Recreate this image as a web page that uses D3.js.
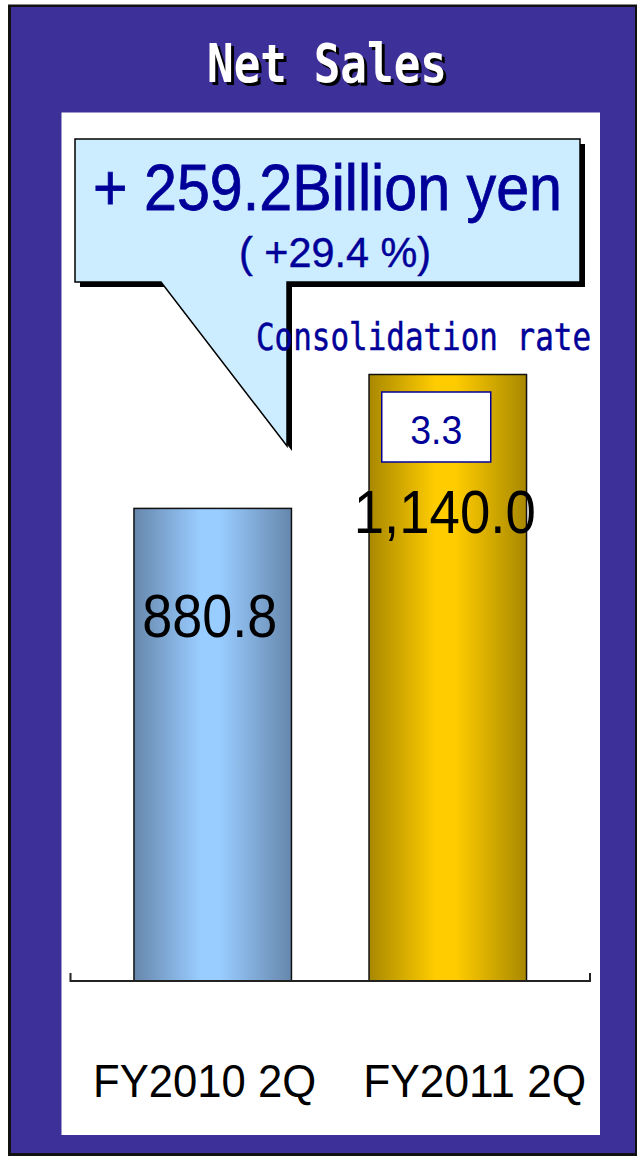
<!DOCTYPE html>
<html><head><meta charset="utf-8">
<script src="https://cdn.jsdelivr.net/npm/d3@7"></script>
<style>body{margin:0;background:#fff}svg{display:block}</style>
</head><body><svg id="c" width="637" height="1156"></svg>
<script>
// ---- data ----
const categories = ["FY2010 2Q", "FY2011 2Q"];
const values = [880.8, 1140.0];
const valueLabels = ["880.8", "1,140.0"];
const rateValues = [null, "3.3"];
const titleText = "Net Sales";
const calloutMain = "+ 259.2Billion yen";
const calloutSub = "( +29.4 %)";
const rateTitle = "Consolidation rate";

// ---- layout ----
const W = 637, H = 1156;
const NAVY = "#000099", PURPLE = "#3d3199";
const baseY = 981, axisL = 70.5, axisR = 590;
const svg = d3.select("#c");

const x = d3.scaleBand().domain(categories).range([axisL, axisR]).paddingInner(0.33).paddingOuter(0.27);
const y = d3.scaleLinear().domain([-34, 1140]).range([baseY, 374.5]);
const xl = d3.scalePoint().domain(categories).range([204.6, 474.8]);

const defs = svg.append("defs");
function grad(id, dark, light) {
  const g = defs.append("linearGradient").attr("id", id).attr("x1", "0").attr("x2", "1").attr("y1", "0").attr("y2", "0");
  [[0, dark], [0.42, light], [0.55, light], [1, dark]].forEach(([o, c]) =>
    g.append("stop").attr("offset", o).attr("stop-color", c));
}
grad("gBlue", "#6687ac", "#99ccff");
grad("gGold", "#a88800", "#ffcc00");
const fills = ["url(#gBlue)", "url(#gGold)"];

// frame
svg.append("rect").attr("x", 8).attr("y", 4.5).attr("width", W - 8).attr("height", H - 4.5).attr("fill", "#111");
svg.append("rect").attr("x", 11).attr("y", 7).attr("width", W - 13).attr("height", H - 10).attr("fill", PURPLE);
svg.append("rect").attr("x", 61.5).attr("y", 112.5).attr("width", 538.5).attr("height", 1022.5).attr("fill", "#fff");

// title
const tAttrs = sel => sel.attr("text-anchor", "start").attr("font-family", "DejaVu Sans Mono")
  .attr("font-weight", "bold").attr("font-size", 54).attr("textLength", 240)
  .attr("lengthAdjust", "spacingAndGlyphs").text(titleText);
svg.append("text").attr("x", 210).attr("y", 85).attr("fill", "#000").call(tAttrs);
svg.append("text").attr("x", 207).attr("y", 82).attr("fill", "#fff").call(tAttrs);

// callout
const cPath = "M75,139 H580 V282 H287 V446 L161,282 H75 Z";
svg.append("path").attr("d", cPath).attr("transform", "translate(5,5)").attr("fill", "#000");
svg.append("path").attr("d", cPath).attr("fill", "#ccecff").attr("stroke", "#000").attr("stroke-width", 1.5);
svg.append("text").attr("x", 93).attr("y", 210).attr("font-family", "Liberation Sans, Arial")
  .attr("font-size", 64).attr("fill", NAVY).attr("stroke", NAVY).attr("stroke-width", 0.8)
  .attr("textLength", 469).attr("lengthAdjust", "spacingAndGlyphs").text(calloutMain);
svg.append("text").attr("x", 239).attr("y", 267).attr("font-family", "Liberation Sans, Arial")
  .attr("font-size", 42).attr("fill", NAVY).attr("stroke", NAVY).attr("stroke-width", 0.4)
  .attr("textLength", 192).attr("lengthAdjust", "spacingAndGlyphs").text(calloutSub);

// bars
const bars = svg.append("g");
categories.forEach((c, i) => {
  bars.append("rect").attr("x", x(c)).attr("y", y(values[i])).attr("width", x.bandwidth())
    .attr("height", baseY - y(values[i])).attr("fill", fills[i])
    .attr("stroke", "#111").attr("stroke-width", 1.5);
});

// consolidation rate title (over bars)
svg.append("text").attr("x", 256).attr("y", 350).attr("font-family", "DejaVu Sans Mono")
  .attr("font-size", 37).attr("fill", NAVY).attr("stroke", NAVY).attr("stroke-width", 0.5)
  .attr("textLength", 335).attr("lengthAdjust", "spacingAndGlyphs").text(rateTitle);

// rate boxes + value labels
categories.forEach((c, i) => {
  const top = y(values[i]);
  let extra = 0;
  if (rateValues[i]) {
    const bx = x(c) + 12.7, by = top + 17.5, bw = 109, bh = 70;
    svg.append("rect").attr("x", bx).attr("y", by).attr("width", bw).attr("height", bh)
      .attr("fill", "#fff").attr("stroke", NAVY).attr("stroke-width", 1.5);
    svg.append("text").attr("x", bx + bw / 2).attr("y", by + 52).attr("text-anchor", "middle")
      .attr("font-family", "Liberation Sans, Arial").attr("font-size", 40).attr("fill", NAVY)
      .attr("textLength", 52).attr("lengthAdjust", "spacingAndGlyphs").text(rateValues[i]);
    extra = 29.5;
  }
  const lbl = valueLabels[i];
  svg.append("text").attr("x", x(c) + x.bandwidth() / 2 - 3).attr("y", top + 129 + extra)
    .attr("text-anchor", "middle").attr("font-family", "Liberation Sans, Arial").attr("font-size", 62)
    .attr("fill", "#000").attr("textLength", lbl.length > 5 ? 182 : 135).attr("lengthAdjust", "spacingAndGlyphs").text(lbl);
});

// axis baseline
svg.append("path").attr("d", `M${axisL},973 V${baseY} H${axisR} V973`).attr("fill", "none")
  .attr("stroke", "#222").attr("stroke-width", 2);

// category labels
categories.forEach(c => {
  svg.append("text").attr("x", xl(c)).attr("y", 1097).attr("text-anchor", "middle")
    .attr("font-family", "Liberation Sans, Arial").attr("font-size", 47).attr("fill", "#000")
    .attr("textLength", 223).attr("lengthAdjust", "spacingAndGlyphs").text(c);
});
</script></body></html>
